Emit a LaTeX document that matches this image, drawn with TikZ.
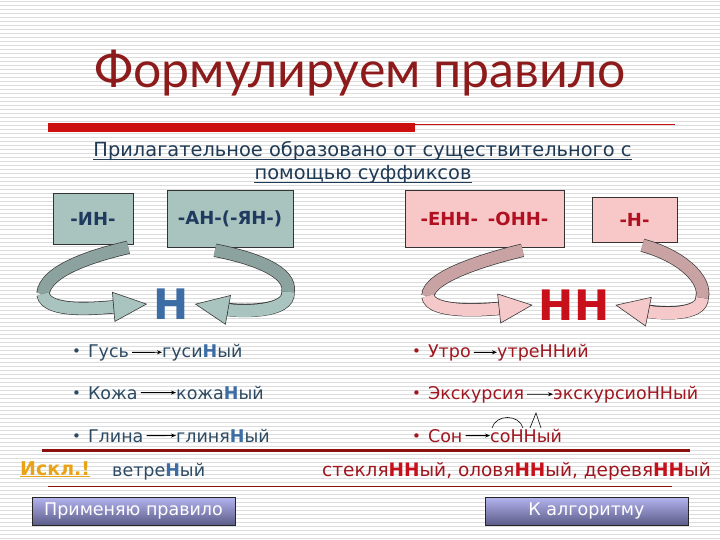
\documentclass[tikz,border=0pt]{standalone}
\usepackage{fontspec}
\setmainfont{DejaVu Sans}
\newfontfamily\titlefont{Lato}
\usetikzlibrary{arrows.meta,calc}

\definecolor{stripegray}{HTML}{DCDCDC}
\definecolor{titlered}{HTML}{8E1B1B}
\definecolor{barred}{HTML}{CC1010}
\definecolor{subnavy}{HTML}{1F3A55}
\definecolor{boxgray}{HTML}{A9C3BE}
\definecolor{boxnavy}{HTML}{1F3A5F}
\definecolor{boxpink}{HTML}{F8C8C8}
\definecolor{boxred}{HTML}{B01020}
\definecolor{blueH}{HTML}{3C6DA5}
\definecolor{redH}{HTML}{C8101A}
\definecolor{listblue}{HTML}{2C4A63}
\definecolor{listred}{HTML}{A0161E}
\definecolor{grayface}{HTML}{A9C3BE}
\definecolor{grayback}{HTML}{8CA29E}
\definecolor{pinkface}{HTML}{F5C9C9}
\definecolor{pinkback}{HTML}{C9A3A3}
\definecolor{ribedge}{HTML}{3A3A3A}
\definecolor{linered}{HTML}{8B1010}
\definecolor{excorange}{HTML}{E8A317}
\definecolor{btntop}{HTML}{B4B4F0}
\definecolor{btnbottom}{HTML}{5C5C88}

\newcommand\bn[1]{{\bfseries\color{blueH}#1}}
\newcommand\rn[1]{{\bfseries\color{redH}#1}}
\newcommand\bul{{\fontsize{15}{15}\selectfont\raisebox{0.5pt}{\textbullet}}\hspace{7pt}}

\begin{document}
\begin{tikzpicture}[x=1pt,y=-1pt,
    back/.style={draw=#1, line width=12pt, preaction={draw=ribedge, line width=13.4pt}},
    front/.style={draw=#1, line width=12pt,
        arrows={-{Triangle[length=34pt,width=30pt,line width=0.6pt,color=ribedge,fill=#1]}},
        preaction={draw=ribedge, line width=13.4pt, arrows=-, shorten >=26pt}}]
    % styles
    \tikzstyle{stripe}=[draw=stripegray, line width=1pt]
    \tikzstyle{suffix}=[draw=black!80, line width=0.6pt, inner sep=0pt, font=\bfseries\fontsize{18}{20}\selectfont]
    \tikzstyle{graybox}=[suffix, fill=boxgray, text=boxnavy]
    \tikzstyle{pinkbox}=[suffix, fill=boxpink, text=boxred]
    \tikzstyle{letter}=[inner sep=6pt, font=\bfseries\fontsize{42}{42}\selectfont]
    \tikzstyle{subtitle}=[anchor=base, inner sep=0pt, text=subnavy, font=\fontsize{19.4}{22}\selectfont]
    \tikzstyle{lword}=[anchor=base west, inner sep=0pt, text=listblue, font=\fontsize{17.5}{20}\selectfont]
    \tikzstyle{rword}=[lword, text=listred]
    \tikzstyle{wordarrow}=[-{Stealth[length=5pt,width=4pt]}, line width=0.9pt, shorten <=3pt]
    \tikzstyle{markline}=[line width=0.6pt]
    \tikzstyle{button}=[draw=black!85, line width=0.8pt, top color=btntop, bottom color=btnbottom, text=white, minimum width=203pt, minimum height=28pt, font=\fontsize{17.5}{20}\selectfont]

    \useasboundingbox (0,0) rectangle (720,540);
    \fill[white] (0,0) rectangle (720,540);
    \foreach \y in {2,6,...,538}
        \draw[stripe] (0,\y) -- (720,\y);

    % heading
    \node[anchor=base, text=titlered, font=\titlefont\fontsize{50}{54}\selectfont] (title) at (360,88) {Формулируем правило};
    \fill[barred] (48,123) rectangle (415,132);
    \draw[barred, line width=0.8pt] (415,124) -- (675,124);
    \node[subtitle] (sub1) at (362.5,157) {Прилагательное образовано от существительного с};
    \node[subtitle] (sub2) at (363,180) {помощью суффиксов};
    \draw[subnavy, line width=1pt] ([yshift=-2.5pt]sub1.base west) -- ([yshift=-2.5pt]sub1.base east);
    \draw[subnavy, line width=1pt] ([yshift=-2.5pt]sub2.base west) -- ([yshift=-2.5pt]sub2.base east);

    % suffixes
    \node[graybox, minimum width=80pt, minimum height=51pt] (in) at (93,218.5) {-ИН-};
    \node[graybox, minimum width=126pt, minimum height=57pt] (an) at (230,218.5) {-АН-(-ЯН-)};
    \node[pinkbox, minimum width=159pt, minimum height=57pt] (enn) at (484.5,218.5) {-ЕНН-\hspace{10pt}-ОНН-};
    \node[pinkbox, minimum width=85pt, minimum height=45pt] (n) at (634.5,219.5) {-Н-};

    % letters
    \node[letter, text=blueH] (Hl) at (171,304) {Н};
    \node[letter, text=redH] (Hr) at (574,305) {НН};

    % ribbons
    \coordinate (turnA) at (43,294);
    \coordinate (turnB) at (288,292);
    \coordinate (turnC) at (428,296);
    \coordinate (turnD) at (702,298);
    \draw[back=grayback] ([xshift=-5pt,yshift=-3pt]in.south east) .. controls (95,255) and (45,270) .. (turnA);
    \draw[front=grayface] (turnA) .. controls (46,314) and (100,308) .. (Hl.west);
    \draw[back=grayback] ([xshift=-15pt,yshift=-3pt]an.south) .. controls (255,258) and (292,272) .. (turnB);
    \draw[front=grayface] (turnB) .. controls (290,313) and (240,312) .. (Hl.east);
    \draw[back=pinkback] ([xshift=38pt,yshift=-3pt]enn.south) .. controls (490,258) and (428,276) .. (turnC);
    \draw[front=pinkface] (turnC) .. controls (430,314) and (485,310) .. (Hr.west);
    \draw[back=pinkback] ([xshift=8pt,yshift=-3pt]n.south) .. controls (682,256) and (707,280) .. (turnD);
    \draw[front=pinkface] (turnD) .. controls (702,316) and (660,314) .. (Hr.east);

    % examples
    \node[lword] (gus) at (72,357) {\bul Гусь};
    \node[lword] (gusin) at (162,357) {гуси\bn{Н}ый};
    \node[lword] (kozha) at (72,399) {\bul Кожа};
    \node[lword] (kozhan) at (176,399) {кожа\bn{Н}ый};
    \node[lword] (glina) at (72,442) {\bul Глина};
    \node[lword] (glinyan) at (176,442) {глиня\bn{Н}ый};
    \node[rword] (utro) at (412,357) {\bul Утро};
    \node[rword] (utrenn) at (497,357) {утреННий};
    \node[rword] (ekskursiya) at (412,399) {\bul Экскурсия};
    \node[rword] (ekskursionn) at (553,399) {экскурсиоННый};
    \node[rword] (son) at (412,442) {\bul Сон};
    \node[rword] (sonn) at (490,442) {соННый};
    \draw[wordarrow] (gus) -- (gusin);
    \draw[wordarrow] (kozha) -- (kozhan);
    \draw[wordarrow] (glina) -- (glinyan);
    \draw[wordarrow] (utro) -- (utrenn);
    \draw[wordarrow] (ekskursiya) -- (ekskursionn);
    \draw[wordarrow] (son) -- (sonn);

    % root and suffix marks
    \draw[markline] ($(sonn.base west)+(2,-14)$) .. controls ($(sonn.base west)+(6,-28)$) and ($(sonn.base west)+(29,-28)$) .. ($(sonn.base west)+(33,-14)$);
    \draw[markline] ($(sonn.base west)+(40,-14)$) -- ($(sonn.base west)+(46,-29)$) -- ($(sonn.base west)+(51,-14)$);

    % exceptions
    \draw[linered, line width=3pt] (42,450) -- (690,450);
    \node[anchor=base west, inner sep=0pt, text=excorange, font=\bfseries\fontsize{19}{20}\selectfont] (iskl) at (20,475) {\underline{Искл.!}};
    \node[lword] (vetren) at (112,476) {ветре\bn{Н}ый};
    \node[rword, font=\fontsize{18.5}{20}\selectfont] (steklo) at (322,476) {стекля\rn{НН}ый, оловя\rn{НН}ый, деревя\rn{НН}ый};
    \draw[linered, line width=0.8pt] (48,486) -- (672,486);

    % buttons
    \node[button] (apply) at (133.5,511) {Применяю правило};
    \node[button] (algo) at (586.5,511) {К алгоритму};
\end{tikzpicture}
\end{document}
